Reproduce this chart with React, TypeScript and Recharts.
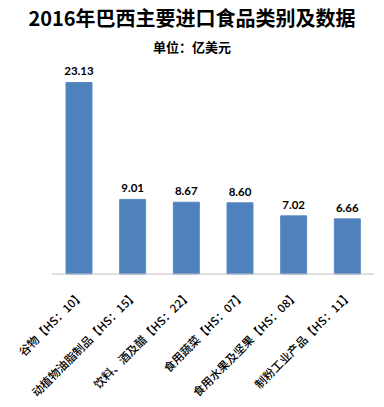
import { BarChart, Bar, XAxis, YAxis, LabelList } from 'recharts'

const categories = [
  '谷物【HS：10】',
  '动植物油脂制品【HS：15】',
  '饮料、酒及醋【HS：22】',
  '食用蔬菜【HS：07】',
  '食用水果及坚果【HS：08】',
  '制粉工业产品【HS：11】',
]
const values = [23.13, 9.01, 8.67, 8.6, 7.02, 6.66]

const data = categories.map((name, i) => ({ name, value: values[i] }))

const CJK = '"Noto Sans CJK SC", "Microsoft YaHei", sans-serif'

function AngledTick(props: any) {
  const { x, y, payload } = props
  return (
    <g transform={`translate(${x + 6},${y + 14})`}>
      <text
        x={0}
        y={0}
        textAnchor="end"
        transform="rotate(-45)"
        fontSize={11.5}
        fontFamily={CJK}
        fontWeight={500}
        fill="#000"
      >
        {payload.value}
      </text>
    </g>
  )
}

export default function App() {
  return (
    <div style={{ position: 'absolute', left: 0, top: 0, width: 384, height: 407, background: '#fff' }}>
      <div
        style={{
          position: 'absolute', left: 0, top: 5, width: 384, textAlign: 'center',
          fontFamily: CJK, fontWeight: 700, fontSize: 20, lineHeight: '26px', color: '#000',
        }}
      >
        2016年巴西主要进口食品类别及数据
      </div>
      <div
        style={{
          position: 'absolute', left: 0, top: 38, width: 384, textAlign: 'center',
          fontFamily: CJK, fontWeight: 700, fontSize: 13, lineHeight: '18px', color: '#000',
        }}
      >
        单位：亿美元
      </div>
      <div style={{ position: 'absolute', left: 0, top: 0 }}>
        <BarChart
          width={384}
          height={407}
          data={data}
          margin={{ top: 67, right: 10, left: 52, bottom: 13 }}
        >
          <XAxis
            dataKey="name"
            interval={0}
            height={120}
            tickLine={false}
            axisLine={{ stroke: '#bfbfbf', strokeWidth: 1 }}
            tick={<AngledTick />}
          />
          <YAxis hide domain={[0, 25]} />
          <Bar dataKey="value" fill="#4f81bd" stroke="#5a8ac6" barSize={26} isAnimationActive={false}>
            <LabelList
              dataKey="value"
              position="top"
              offset={7}
              formatter={(v: any) => Number(v).toFixed(2)}
              style={{ fontFamily: 'Lato, sans-serif', fontWeight: 700, fontSize: 11.5, fill: '#000' }}
            />
          </Bar>
        </BarChart>
      </div>
    </div>
  )
}
